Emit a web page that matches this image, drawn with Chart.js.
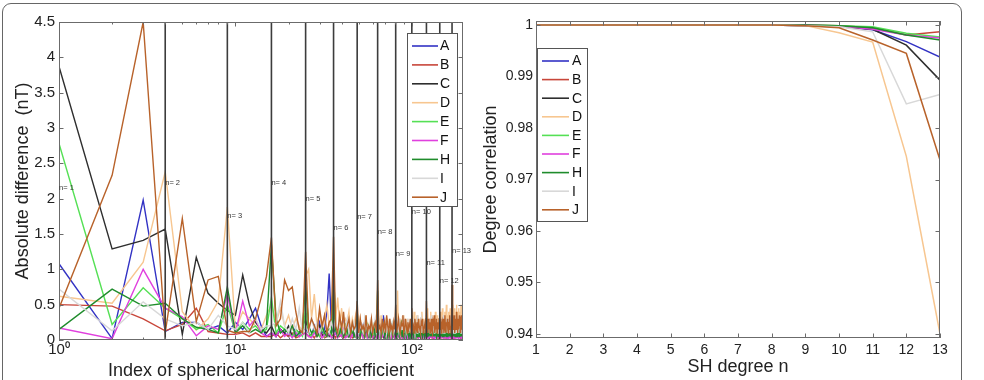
<!DOCTYPE html>
<html>
<head>
<meta charset="utf-8">
<script src="https://cdn.jsdelivr.net/npm/chart.js@4.4.1/dist/chart.umd.min.js"></script>
<style>
  body { margin: 0; background: #fff; width: 984px; height: 380px; overflow: hidden; position: relative; }
  #frame { position: absolute; left: 2px; top: 3px; width: 958px; height: 430px; border: 1.5px solid #666; border-radius: 9px; }
  #diffCanvas { position: absolute; left: 0; top: 0; }
  #corrCanvas { position: absolute; left: 470px; top: 0; }
</style>
</head>
<body>
<div id="frame"></div>
<canvas id="diffCanvas" width="484" height="390"></canvas>
<canvas id="corrCanvas" width="494" height="390"></canvas>
<script>
// ---- shared series info ----
const seriesNames = ['A', 'B', 'C', 'D', 'E', 'F', 'H', 'I', 'J'];
const seriesColors = ['#3232c4', '#c8463a', '#2e2e2e', '#f7c690', '#55e055', '#e040de', '#1f8c2c', '#d8d8d8', '#b8622a'];

// ---- left panel: absolute difference per coefficient index (1..195), one row per degree ----
const diffA = [
  1.08, 0.02, 1.98,
  0.12, 0.25, 0.25, 0.15, 0.2,
  0.1, 0.25, 0.15, 0.3, 0.45, 0.2, 0.05,
  0.1, 0.05, 0.15, 0.1, 0.05, 0.2, 0.1, 0.05, 0.15,
  0.15, 0.1, 0.05, 0.2, 0.1, 0.25, 0.1, 0.15, 0.4, 0.94, 0.2,
  0.1, 0.2, 0.05, 0.15, 0.1, 0.25, 0.05, 0.1, 0.2, 0.05, 0.15, 0.1, 0.05,
  0.1, 0.05, 0.15, 0.1, 0.2, 0.05, 0.1, 0.15, 0.05, 0.1, 0.2, 0.1, 0.05, 0.15, 0.1,
  0.05, 0.1, 0.15, 0.05, 0.1, 0.35, 0.1, 0.05, 0.15, 0.1, 0.2, 0.05, 0.1, 0.15, 0.05, 0.1, 0.2,
  0.1, 0.05, 0.15, 0.1, 0.2, 0.05, 0.1, 0.15, 0.05, 0.3, 0.1, 0.05, 0.15, 0.1, 0.05, 0.2, 0.1, 0.05, 0.15,
  0.1, 0.15, 0.05, 0.1, 0.2, 0.05, 0.1, 0.15, 0.05, 0.1, 0.25, 0.05, 0.1, 0.15, 0.05, 0.1, 0.2, 0.05, 0.1, 0.15, 0.05,
  0.1, 0.05, 0.15, 0.1, 0.05, 0.2, 0.1, 0.05, 0.15, 0.1, 0.05, 0.2, 0.1, 0.05, 0.15, 0.1, 0.2, 0.05, 0.1, 0.15, 0.05, 0.1, 0.2,
  0.05, 0.1, 0.15, 0.05, 0.2, 0.1, 0.05, 0.15, 0.1, 0.05, 0.2, 0.1, 0.15, 0.05, 0.1, 0.2, 0.05, 0.1, 0.15, 0.05, 0.1, 0.2, 0.05, 0.1, 0.15,
  0.1, 0.05, 0.15, 0.1, 0.2, 0.05, 0.1, 0.15, 0.05, 0.1, 0.2, 0.05, 0.1, 0.15, 0.1, 0.05, 0.2, 0.1, 0.05, 0.15, 0.1, 0.05, 0.2, 0.1, 0.15, 0.05, 0.1
];
const diffB = [
  0.5, 0.48, 0.3,
  0.13, 0.22, 0.45, 0.12, 0.1,
  0.08, 0.08, 0.1, 0.05, 0.1, 0.05, 0.05,
  0.05, 0.1, 0.03, 0.08, 0.05, 0.1, 0.03, 0.05, 0.08,
  0.1, 0.05, 0.08, 0.03, 0.1, 0.05, 0.08, 0.03, 0.05, 0.1, 0.05,
  0.08, 0.03, 0.1, 0.05, 0.08, 0.03, 0.05, 0.1, 0.05, 0.08, 0.03, 0.05, 0.1,
  0.05, 0.08, 0.03, 0.1, 0.05, 0.03, 0.08, 0.05, 0.1, 0.03, 0.05, 0.08, 0.03, 0.1, 0.05,
  0.08, 0.05, 0.1, 0.03, 0.05, 0.08, 0.1, 0.03, 0.05, 0.08, 0.05, 0.1, 0.03, 0.08, 0.05, 0.1, 0.03,
  0.05, 0.1, 0.03, 0.08, 0.05, 0.1, 0.03, 0.05, 0.08, 0.1, 0.05, 0.03, 0.08, 0.05, 0.1, 0.03, 0.05, 0.08, 0.05,
  0.1, 0.05, 0.08, 0.03, 0.1, 0.05, 0.08, 0.03, 0.05, 0.1, 0.05, 0.08, 0.03, 0.1, 0.05, 0.08, 0.03, 0.05, 0.1, 0.05, 0.08,
  0.05, 0.08, 0.1, 0.03, 0.05, 0.08, 0.1, 0.05, 0.03, 0.08, 0.05, 0.1, 0.03, 0.05, 0.08, 0.1, 0.05, 0.03, 0.08, 0.05, 0.1, 0.03, 0.05,
  0.08, 0.05, 0.1, 0.03, 0.08, 0.05, 0.1, 0.05, 0.03, 0.08, 0.1, 0.05, 0.03, 0.08, 0.05, 0.1, 0.03, 0.05, 0.08, 0.1, 0.05, 0.03, 0.08, 0.05, 0.1,
  0.05, 0.1, 0.03, 0.08, 0.05, 0.1, 0.05, 0.03, 0.08, 0.1, 0.05, 0.03, 0.08, 0.05, 0.1, 0.03, 0.05, 0.08, 0.1, 0.05, 0.03, 0.08, 0.05, 0.1, 0.03, 0.05, 0.08
];
const diffC = [
  3.87, 1.29, 1.41,
  1.57, 0.08, 1.17, 0.66, 0.52,
  0.42, 0.35, 0.92, 0.5, 0.25, 0.15, 0.1,
  0.2, 0.05, 0.15, 0.1, 0.2, 0.05, 0.15, 0.1, 0.2,
  0.3, 0.1, 0.05, 0.15, 0.1, 0.2, 0.05, 0.1, 0.15, 0.05, 0.1,
  0.25, 0.1, 0.05, 0.15, 0.1, 0.05, 0.2, 0.1, 0.05, 0.15, 0.1, 0.05, 0.1,
  0.15, 0.05, 0.1, 0.2, 0.05, 0.1, 0.15, 0.05, 0.1, 0.05, 0.15, 0.1, 0.05, 0.2, 0.1,
  0.2, 0.1, 0.05, 0.15, 0.1, 0.05, 0.2, 0.1, 0.05, 0.15, 0.05, 0.1, 0.2, 0.05, 0.1, 0.15, 0.05,
  0.1, 0.15, 0.05, 0.1, 0.2, 0.05, 0.1, 0.15, 0.05, 0.1, 0.2, 0.05, 0.1, 0.05, 0.15, 0.1, 0.05, 0.2, 0.1,
  0.15, 0.05, 0.1, 0.2, 0.05, 0.1, 0.15, 0.05, 0.1, 0.05, 0.2, 0.1, 0.05, 0.15, 0.1, 0.05, 0.2, 0.1, 0.05, 0.15, 0.1,
  0.1, 0.05, 0.15, 0.1, 0.2, 0.05, 0.1, 0.15, 0.05, 0.1, 0.2, 0.05, 0.15, 0.1, 0.05, 0.2, 0.1, 0.05, 0.15, 0.1, 0.05, 0.2, 0.1,
  0.15, 0.1, 0.05, 0.2, 0.1, 0.05, 0.15, 0.1, 0.05, 0.2, 0.1, 0.15, 0.05, 0.1, 0.2, 0.05, 0.1, 0.15, 0.05, 0.1, 0.2, 0.05, 0.15, 0.1, 0.05,
  0.1, 0.2, 0.05, 0.1, 0.15, 0.05, 0.1, 0.2, 0.05, 0.15, 0.1, 0.05, 0.2, 0.1, 0.05, 0.15, 0.1, 0.2, 0.05, 0.1, 0.15, 0.05, 0.1, 0.2, 0.05, 0.1, 0.15
];
const diffD = [
  0.62, 0.52, 1.1,
  2.38, 0.4, 0.14, 0.3, 0.55,
  1.88, 0.14, 0.4, 0.3, 0.2, 0.15, 0.35,
  0.5, 0.25, 0.45, 0.2, 0.35, 0.15, 0.3, 0.2, 0.1,
  0.9, 1.0, 0.3, 0.65, 0.2, 0.4, 0.15, 0.3, 0.5, 0.2, 0.25,
  0.55, 0.3, 0.6, 0.2, 0.45, 0.15, 0.3, 0.25, 0.4, 0.1, 0.3, 0.2, 0.35,
  0.2, 0.1, 0.3, 0.1, 0.2, 0.15, 0.35, 0.05, 0.2, 0.1, 0.25, 0.1, 0.15, 0.2, 0.1,
  0.3, 0.15, 0.1, 0.35, 0.1, 0.2, 0.15, 0.25, 0.1, 0.3, 0.1, 0.2, 0.15, 0.1, 0.25, 0.05, 0.2,
  0.25, 0.15, 0.7, 0.1, 0.3, 0.2, 0.1, 0.25, 0.15, 0.35, 0.1, 0.2, 0.1, 0.3, 0.15, 0.2, 0.1, 0.25, 0.1,
  0.3, 0.2, 0.1, 0.4, 0.15, 0.25, 0.1, 0.35, 0.2, 0.1, 0.3, 0.15, 0.25, 0.1, 0.4, 0.2, 0.1, 0.3, 0.15, 0.25, 0.1,
  0.35, 0.2, 0.45, 0.1, 0.3, 0.2, 0.15, 0.4, 0.1, 0.25, 0.35, 0.1, 0.2, 0.3, 0.15, 0.4, 0.2, 0.1, 0.35, 0.25, 0.15, 0.3, 0.2,
  0.25, 0.4, 0.15, 0.3, 0.2, 0.45, 0.1, 0.35, 0.25, 0.2, 0.4, 0.15, 0.3, 0.5, 0.2, 0.25, 0.35, 0.1, 0.4, 0.3, 0.2, 0.45, 0.25, 0.35, 0.2,
  0.4, 0.25, 0.5, 0.2, 0.35, 0.3, 0.45, 0.15, 0.4, 0.25, 0.5, 0.2, 0.35, 0.4, 0.25, 0.45, 0.3, 0.2, 0.4, 0.35, 0.25, 0.5, 0.3, 0.4, 0.2, 0.45, 0.73
];
const diffE = [
  2.78, 0.22, 0.74,
  0.45, 0.3, 0.15, 0.22, 0.1,
  0.5, 0.1, 0.25, 0.15, 0.2, 0.1, 0.15,
  0.6, 0.1, 0.2, 0.15, 0.1, 0.05, 0.15, 0.1, 0.05,
  0.45, 0.1, 0.05, 0.15, 0.1, 0.05, 0.2, 0.05, 0.1, 0.15, 0.05,
  0.5, 0.1, 0.05, 0.15, 0.05, 0.1, 0.2, 0.05, 0.1, 0.05, 0.15, 0.1, 0.05,
  0.2, 0.05, 0.1, 0.15, 0.05, 0.1, 0.05, 0.2, 0.1, 0.05, 0.15, 0.05, 0.1, 0.05, 0.15,
  0.3, 0.05, 0.1, 0.05, 0.15, 0.1, 0.05, 0.2, 0.05, 0.1, 0.15, 0.05, 0.1, 0.05, 0.2, 0.1, 0.05,
  0.2, 0.1, 0.05, 0.15, 0.05, 0.1, 0.2, 0.05, 0.1, 0.05, 0.15, 0.1, 0.05, 0.2, 0.05, 0.1, 0.15, 0.05, 0.1,
  0.25, 0.05, 0.1, 0.15, 0.05, 0.1, 0.05, 0.2, 0.1, 0.05, 0.15, 0.05, 0.1, 0.2, 0.05, 0.1, 0.05, 0.15, 0.1, 0.05, 0.1,
  0.2, 0.05, 0.1, 0.05, 0.15, 0.1, 0.05, 0.2, 0.05, 0.1, 0.15, 0.05, 0.1, 0.05, 0.2, 0.1, 0.05, 0.15, 0.05, 0.1, 0.05, 0.2, 0.1,
  0.15, 0.05, 0.1, 0.2, 0.05, 0.1, 0.05, 0.15, 0.1, 0.05, 0.2, 0.05, 0.1, 0.15, 0.05, 0.1, 0.05, 0.2, 0.1, 0.05, 0.15, 0.05, 0.1, 0.05, 0.2,
  0.2, 0.1, 0.05, 0.15, 0.05, 0.1, 0.2, 0.05, 0.1, 0.05, 0.15, 0.1, 0.05, 0.2, 0.05, 0.1, 0.15, 0.05, 0.1, 0.05, 0.2, 0.1, 0.05, 0.15, 0.05, 0.1, 0.05
];
const diffF = [
  0.17, 0.02, 1.0,
  0.45, 0.33, 0.06, 0.2, 0.15,
  0.65, 0.1, 0.55, 0.2, 0.3, 0.1, 0.05,
  0.1, 0.05, 0.15, 0.05, 0.1, 0.03, 0.1, 0.05, 0.08,
  0.1, 0.05, 0.03, 0.1, 0.05, 0.15, 0.03, 0.08, 0.05, 0.1, 0.03,
  0.05, 0.1, 0.03, 0.08, 0.05, 0.15, 0.03, 0.05, 0.1, 0.03, 0.08, 0.05, 0.1,
  0.03, 0.08, 0.05, 0.1, 0.03, 0.05, 0.12, 0.03, 0.08, 0.05, 0.1, 0.03, 0.05, 0.08, 0.03,
  0.05, 0.1, 0.03, 0.08, 0.05, 0.12, 0.03, 0.05, 0.1, 0.03, 0.08, 0.05, 0.1, 0.03, 0.05, 0.08, 0.03,
  0.08, 0.03, 0.05, 0.1, 0.03, 0.08, 0.05, 0.12, 0.03, 0.05, 0.08, 0.03, 0.1, 0.05, 0.03, 0.08, 0.05, 0.1, 0.03,
  0.05, 0.1, 0.03, 0.08, 0.05, 0.03, 0.1, 0.05, 0.08, 0.03, 0.12, 0.05, 0.03, 0.08, 0.05, 0.1, 0.03, 0.05, 0.08, 0.03, 0.1,
  0.03, 0.08, 0.05, 0.1, 0.03, 0.05, 0.08, 0.03, 0.12, 0.05, 0.03, 0.08, 0.05, 0.1, 0.03, 0.05, 0.08, 0.03, 0.1, 0.05, 0.03, 0.08, 0.05,
  0.08, 0.03, 0.05, 0.1, 0.03, 0.08, 0.05, 0.03, 0.12, 0.05, 0.08, 0.03, 0.1, 0.05, 0.03, 0.08, 0.05, 0.1, 0.03, 0.05, 0.08, 0.03, 0.1, 0.05, 0.03,
  0.05, 0.1, 0.03, 0.08, 0.05, 0.03, 0.1, 0.05, 0.08, 0.03, 0.12, 0.05, 0.03, 0.08, 0.05, 0.1, 0.03, 0.05, 0.08, 0.03, 0.1, 0.05, 0.03, 0.08, 0.05, 0.1, 0.03
];
const diffH = [
  0.15, 0.72, 0.48,
  0.52, 0.3, 0.18, 0.15, 0.1,
  0.75, 0.1, 0.2, 0.1, 0.15, 0.1, 0.2,
  1.35, 0.3, 0.1, 0.15, 0.1, 0.2, 0.05, 0.1, 0.15,
  0.8, 0.2, 0.1, 0.15, 0.05, 0.1, 0.2, 0.1, 0.05, 0.15, 0.1,
  1.0, 0.15, 0.05, 0.1, 0.2, 0.05, 0.1, 0.15, 0.05, 0.1, 0.2, 0.05, 0.1,
  0.4, 0.1, 0.05, 0.15, 0.1, 0.05, 0.2, 0.1, 0.05, 0.15, 0.05, 0.1, 0.2, 0.05, 0.1,
  0.7, 0.1, 0.15, 0.05, 0.1, 0.2, 0.05, 0.1, 0.15, 0.05, 0.1, 0.05, 0.2, 0.1, 0.05, 0.15, 0.1,
  0.3, 0.05, 0.1, 0.15, 0.05, 0.1, 0.2, 0.05, 0.1, 0.05, 0.15, 0.1, 0.05, 0.2, 0.1, 0.05, 0.15, 0.05, 0.1,
  0.35, 0.1, 0.05, 0.15, 0.1, 0.05, 0.2, 0.05, 0.1, 0.15, 0.05, 0.1, 0.05, 0.2, 0.1, 0.05, 0.15, 0.1, 0.05, 0.2, 0.05,
  0.3, 0.05, 0.1, 0.2, 0.05, 0.1, 0.15, 0.05, 0.1, 0.05, 0.2, 0.1, 0.05, 0.15, 0.05, 0.1, 0.2, 0.05, 0.1, 0.15, 0.05, 0.1, 0.05,
  0.25, 0.1, 0.05, 0.15, 0.1, 0.05, 0.2, 0.05, 0.1, 0.15, 0.05, 0.1, 0.2, 0.05, 0.1, 0.05, 0.15, 0.1, 0.05, 0.2, 0.05, 0.1, 0.15, 0.05, 0.1,
  0.3, 0.05, 0.1, 0.15, 0.05, 0.2, 0.1, 0.05, 0.15, 0.05, 0.1, 0.2, 0.05, 0.1, 0.15, 0.05, 0.1, 0.05, 0.2, 0.1, 0.05, 0.15, 0.05, 0.1, 0.2, 0.05, 0.1
];
const diffI = [
  0.72, 0.13, 0.54,
  0.3, 0.2, 0.25, 0.15, 0.35,
  0.2, 0.15, 0.25, 0.1, 0.3, 0.15, 0.2,
  0.2, 0.25, 0.55, 0.2, 0.1, 0.3, 0.15, 0.45, 0.1,
  0.2, 0.1, 0.3, 0.15, 0.25, 0.1, 0.2, 0.35, 0.15, 0.1, 0.25,
  0.15, 0.3, 0.1, 0.2, 0.25, 0.1, 0.15, 0.3, 0.1, 0.2, 0.15, 0.25, 0.1,
  0.2, 0.1, 0.25, 0.15, 0.1, 0.3, 0.15, 0.2, 0.1, 0.25, 0.15, 0.1, 0.2, 0.3, 0.1,
  0.15, 0.25, 0.1, 0.2, 0.3, 0.1, 0.15, 0.25, 0.1, 0.2, 0.15, 0.3, 0.1, 0.2, 0.25, 0.1, 0.15,
  0.2, 0.1, 0.3, 0.15, 0.25, 0.1, 0.2, 0.15, 0.35, 0.1, 0.2, 0.25, 0.1, 0.15, 0.3, 0.1, 0.2, 0.15, 0.25,
  0.1, 0.2, 0.3, 0.15, 0.1, 0.25, 0.2, 0.1, 0.35, 0.15, 0.2, 0.1, 0.25, 0.3, 0.1, 0.15, 0.2, 0.1, 0.25, 0.15, 0.3,
  0.2, 0.15, 0.1, 0.3, 0.2, 0.25, 0.1, 0.15, 0.35, 0.1, 0.2, 0.3, 0.15, 0.1, 0.25, 0.2, 0.1, 0.3, 0.15, 0.2, 0.1, 0.25, 0.15,
  0.25, 0.1, 0.2, 0.15, 0.3, 0.1, 0.2, 0.35, 0.15, 0.1, 0.25, 0.2, 0.1, 0.3, 0.15, 0.2, 0.1, 0.25, 0.3, 0.15, 0.1, 0.2, 0.35, 0.15, 0.2,
  0.2, 0.3, 0.15, 0.1, 0.25, 0.2, 0.35, 0.1, 0.15, 0.3, 0.2, 0.1, 0.25, 0.15, 0.3, 0.2, 0.1, 0.35, 0.15, 0.2, 0.25, 0.1, 0.3, 0.15, 0.2, 0.1, 0.25
];
const diffJ = [
  0.45, 2.33, 4.5,
  0.1, 1.72, 0.26, 0.85, 0.9,
  0.14, 0.1, 0.12, 0.12, 0.3, 0.6, 0.9,
  1.45, 0.2, 0.3, 0.85, 0.7, 0.75, 0.4, 0.15, 0.1,
  1.25, 0.15, 0.3, 0.2, 0.1, 0.45, 0.2, 0.35, 0.1, 0.25, 0.3,
  1.46, 0.2, 0.1, 0.35, 0.15, 0.4, 0.1, 0.2, 0.3, 0.1, 0.25, 0.15, 0.2,
  0.55, 0.1, 0.3, 0.15, 0.2, 0.1, 0.35, 0.1, 0.2, 0.15, 0.3, 0.1, 0.2, 0.25, 0.1,
  0.85, 0.15, 0.2, 0.1, 0.3, 0.15, 0.25, 0.1, 0.35, 0.2, 0.1, 0.3, 0.15, 0.2, 0.1, 0.25, 0.15,
  0.5, 0.1, 0.2, 0.3, 0.15, 0.1, 0.25, 0.2, 0.35, 0.1, 0.15, 0.3, 0.2, 0.1, 0.25, 0.15, 0.2, 0.3, 0.1,
  0.45, 0.15, 0.2, 0.1, 0.3, 0.2, 0.15, 0.25, 0.1, 0.3, 0.2, 0.15, 0.1, 0.25, 0.2, 0.3, 0.1, 0.15, 0.2, 0.25, 0.1,
  0.55, 0.2, 0.1, 0.3, 0.15, 0.25, 0.1, 0.2, 0.3, 0.15, 0.1, 0.25, 0.2, 0.35, 0.1, 0.2, 0.15, 0.3, 0.1, 0.25, 0.2, 0.15, 0.3,
  0.4, 0.15, 0.3, 0.1, 0.2, 0.25, 0.15, 0.3, 0.1, 0.2, 0.35, 0.15, 0.1, 0.25, 0.2, 0.3, 0.15, 0.1, 0.2, 0.25, 0.35, 0.15, 0.2, 0.1, 0.3,
  0.78, 0.2, 0.3, 0.15, 0.25, 0.35, 0.1, 0.2, 0.3, 0.15, 0.25, 0.4, 0.2, 0.1, 0.3, 0.25, 0.15, 0.35, 0.2, 0.3, 0.1, 0.25, 0.2, 0.35, 0.15, 0.3, 0.2
];

// degree boundaries (first index of degrees 2..13) and the "n= k" labels
const degreeStartIndex = [4, 9, 16, 25, 36, 49, 64, 81, 100, 121, 144, 169];
const degreeLabelNames = ['n= 1', 'n= 2', 'n= 3', 'n= 4', 'n= 5', 'n= 6', 'n= 7', 'n= 8', 'n= 9', 'n= 10', 'n= 11', 'n= 12', 'n= 13'];
const degreeLabelIndex = [1, 4, 9, 16, 25, 36, 49, 64, 81, 100, 121, 144, 169];
const degreeLabelY = [2.15, 2.22, 1.75, 2.22, 2.0, 1.58, 1.74, 1.53, 1.22, 1.81, 1.09, 0.83, 1.26];

const diffYTicks = [0, 0.5, 1, 1.5, 2, 2.5, 3, 3.5, 4, 4.5];
const diffXTicks = [1, 2, 3, 4, 5, 6, 7, 8, 9, 10, 20, 30, 40, 50, 60, 70, 80, 90, 100];
const decadeTicks = [1, 10, 100];
const decadeLabels = ['10\u2070', '10\u00b9', '10\u00b2'];

// ---- right panel: degree correlation ----
const degrees = [1, 2, 3, 4, 5, 6, 7, 8, 9, 10, 11, 12, 13];
const corrA = [1, 1, 1, 1, 1, 1, 1, 1, 0.9999, 0.9998, 0.9991, 0.9968, 0.9938];
const corrB = [1, 1, 1, 1, 1, 1, 1, 1, 1, 0.9999, 0.9995, 0.9981, 0.9987];
const corrC = [1, 1, 1, 1, 1, 1, 1, 1, 0.9999, 0.9997, 0.9992, 0.9961, 0.9893];
const corrD = [1, 1, 1, 1, 1, 1, 1, 1, 0.9999, 0.9985, 0.9967, 0.9745, 0.9400];
const corrE = [1, 1, 1, 1, 1, 1, 1, 1, 1, 0.9999, 0.9997, 0.9984, 0.9977];
const corrF = [1, 1, 1, 1, 1, 1, 1, 1, 1, 0.9998, 0.9992, 0.9981, 0.9975];
const corrH = [1, 1, 1, 1, 1, 1, 1, 1, 1, 0.9999, 0.9995, 0.9981, 0.9971];
const corrI = [1, 1, 1, 1, 1, 1, 1, 1, 0.9999, 0.9997, 0.9987, 0.9847, 0.9865];
const corrJ = [1, 1, 1, 1, 1, 1, 1, 1, 0.9999, 0.9995, 0.9971, 0.9945, 0.9738];
const corrYTicks = [0.94, 0.95, 0.96, 0.97, 0.98, 0.99, 1];

const diffSeries = [diffA, diffB, diffC, diffD, diffE, diffF, diffH, diffI, diffJ];
const corrSeries = [corrA, corrB, corrC, corrD, corrE, corrF, corrH, corrI, corrJ];

Chart.defaults.font.family = '"Liberation Sans", Arial, sans-serif';
Chart.defaults.color = '#222';

function seriesDatasets(series, xValues, width) {
  // later series sit on top, as in the original plot
  return series.map((values, i) => ({
    label: seriesNames[i],
    data: values.map((y, k) => ({ x: xValues ? xValues[k] : k + 1, y })),
    borderColor: seriesColors[i],
    backgroundColor: seriesColors[i],
    borderWidth: width,
    pointRadius: 0,
    tension: 0,
    order: series.length - i
  }));
}

function axesBoxPlugin(minorTicks) {
  return {
    id: 'axesBox',
    afterDatasetsDraw(chart) {
      const { ctx, chartArea: a, scales } = chart;
      ctx.save();
      ctx.strokeStyle = '#6b6b6b';
      ctx.lineWidth = 1;
      ctx.beginPath();
      scales.x.ticks.forEach(t => {
        const px = Math.round(scales.x.getPixelForValue(t.value)) + 0.5;
        const len = minorTicks && !decadeTicks.includes(t.value) ? 2.5 : 4.5;
        ctx.moveTo(px, a.bottom); ctx.lineTo(px, a.bottom - len);
        ctx.moveTo(px, a.top); ctx.lineTo(px, a.top + len);
      });
      scales.y.ticks.forEach(t => {
        const py = Math.round(scales.y.getPixelForValue(t.value)) + 0.5;
        ctx.moveTo(a.left, py); ctx.lineTo(a.left + 4.5, py);
        ctx.moveTo(a.right, py); ctx.lineTo(a.right - 4.5, py);
      });
      ctx.stroke();
      ctx.strokeRect(Math.round(a.left) + 0.5, Math.round(a.top) + 0.5,
        Math.round(a.right - a.left) - 1, Math.round(a.bottom - a.top) - 1);
      ctx.restore();
    }
  };
}

const degreeLabelPlugin = {
  id: 'degreeLabels',
  afterDatasetsDraw(chart) {
    const { ctx, scales: { x, y } } = chart;
    ctx.save();
    ctx.fillStyle = '#333';
    ctx.font = '7.5px "Liberation Sans", Arial, sans-serif';
    ctx.textAlign = 'left';
    ctx.textBaseline = 'middle';
    degreeLabelNames.forEach((name, i) => {
      ctx.fillText(name, x.getPixelForValue(degreeLabelIndex[i]), y.getPixelForValue(degreeLabelY[i]));
    });
    ctx.restore();
  }
};

function boxLegendPlugin(box) {
  return {
    id: 'boxLegend',
    afterDraw(chart) {
      const { ctx } = chart;
      ctx.save();
      ctx.fillStyle = '#fff';
      ctx.fillRect(box.left, box.top, box.width, box.height);
      ctx.strokeStyle = '#555';
      ctx.lineWidth = 1;
      ctx.strokeRect(box.left + 0.5, box.top + 0.5, box.width, box.height);
      ctx.font = '14px "Liberation Sans", Arial, sans-serif';
      ctx.textBaseline = 'middle';
      ctx.textAlign = 'left';
      seriesNames.forEach((name, i) => {
        const cy = box.top + box.first + i * box.step;
        ctx.strokeStyle = seriesColors[i];
        ctx.lineWidth = 1.6;
        ctx.beginPath();
        ctx.moveTo(box.left + box.lineFrom, cy);
        ctx.lineTo(box.left + box.lineTo, cy);
        ctx.stroke();
        ctx.fillStyle = '#111';
        ctx.fillText(name, box.left + box.textAt, cy + 0.5);
      });
      ctx.restore();
    }
  };
}

// ---- left chart ----
const boundaryData = degreeStartIndex.flatMap(v => [
  { x: v, y: diffYTicks[0] }, { x: v, y: diffYTicks[diffYTicks.length - 1] }, { x: v, y: null }
]);

new Chart(document.getElementById('diffCanvas'), {
  type: 'line',
  data: {
    datasets: [
      ...seriesDatasets(diffSeries, null, 1.4),
      { label: 'degree', data: boundaryData, borderColor: '#3c3c3c', borderWidth: 1.6, pointRadius: 0, spanGaps: false, order: 0 }
    ]
  },
  options: {
    responsive: false,
    animation: false,
    layout: { padding: { left: 0, top: 22, right: 21, bottom: 0 } },
    plugins: { legend: { display: false }, tooltip: { enabled: false } },
    scales: {
      x: {
        type: 'logarithmic',
        min: 1,
        max: 195,
        grid: { display: false, drawTicks: false },
        border: { display: false },
        afterBuildTicks: scale => { scale.ticks = diffXTicks.map(value => ({ value })); },
        afterFit: scale => { scale.height = 50; },
        ticks: {
          autoSkip: false,
          maxRotation: 0,
          padding: 1,
          font: { size: 15 },
          callback: value => {
            const k = decadeTicks.indexOf(value);
            return k >= 0 ? decadeLabels[k] : '';
          }
        },
        title: {
          display: true,
          text: 'Index of spherical harmonic coefficient',
          font: { size: 18 },
          padding: { top: 0, bottom: 8 }
        }
      },
      y: {
        min: 0,
        max: 4.5,
        grid: { display: false, drawTicks: false },
        border: { display: false },
        afterBuildTicks: scale => { scale.ticks = diffYTicks.map(value => ({ value })); },
        afterFit: scale => { scale.width = 59; },
        ticks: { padding: 4, font: { size: 15 }, callback: value => String(value) },
        title: {
          display: true,
          text: 'Absolute difference  (nT)',
          font: { size: 18 },
          padding: { top: 12, bottom: 0 }
        }
      }
    }
  },
  plugins: [axesBoxPlugin(true), degreeLabelPlugin,
    boxLegendPlugin({ left: 407, top: 33, width: 50, height: 173, first: 13, step: 18.9, lineFrom: 5, lineTo: 31, textAt: 33 })]
});

// ---- right chart ----
new Chart(document.getElementById('corrCanvas'), {
  type: 'line',
  data: { datasets: seriesDatasets(corrSeries, degrees, 1.5) },
  options: {
    responsive: false,
    animation: false,
    layout: { padding: { left: 0, top: 21, right: 24, bottom: 0 } },
    plugins: { legend: { display: false }, tooltip: { enabled: false } },
    scales: {
      x: {
        type: 'linear',
        min: 1,
        max: 13,
        grid: { display: false, drawTicks: false },
        border: { display: false },
        afterBuildTicks: scale => { scale.ticks = degrees.map(value => ({ value })); },
        afterFit: scale => { scale.height = 52; },
        ticks: { autoSkip: false, maxRotation: 0, padding: 4, font: { size: 14 }, callback: value => String(value) },
        title: {
          display: true,
          text: 'SH degree n',
          font: { size: 18 },
          padding: { top: 0, bottom: 12 }
        }
      },
      y: {
        min: 0.9392,
        max: 1.0008,
        grid: { display: false, drawTicks: false },
        border: { display: false },
        afterBuildTicks: scale => { scale.ticks = corrYTicks.map(value => ({ value })); },
        afterFit: scale => { scale.width = 66; },
        ticks: { padding: 3, font: { size: 14 }, callback: value => String(value) },
        title: {
          display: true,
          text: 'Degree correlation',
          font: { size: 18 },
          padding: { top: 10, bottom: 0 }
        }
      }
    }
  },
  plugins: [axesBoxPlugin(false),
    boxLegendPlugin({ left: 67, top: 48, width: 50, height: 173, first: 13, step: 18.6, lineFrom: 5, lineTo: 32, textAt: 35 })]
});
</script>
</body>
</html>
